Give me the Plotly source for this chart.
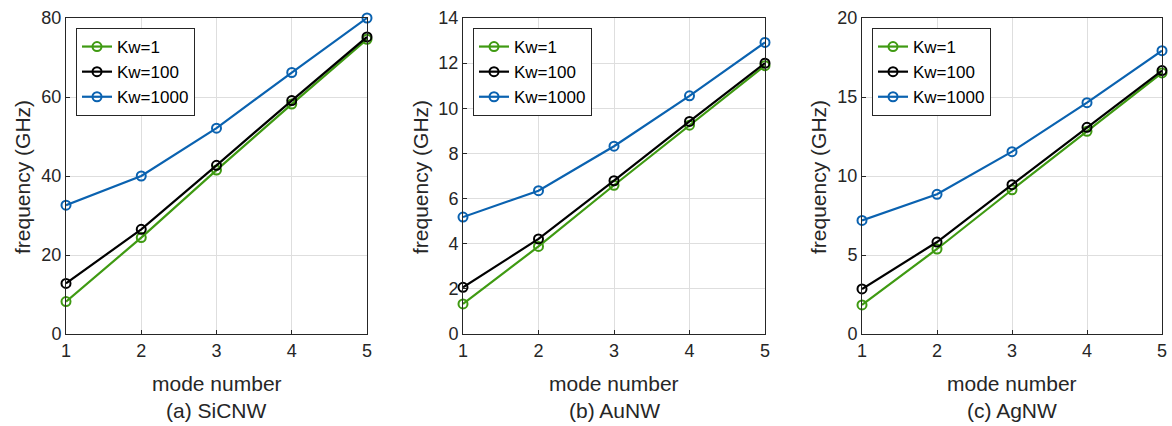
import plotly.graph_objects as go

modes = [1, 2, 3, 4, 5]
series_names = ["Kw=1", "Kw=100", "Kw=1000"]

sic_kw1 = [8.2, 24.4, 41.5, 58.2, 74.6]
sic_kw100 = [12.8, 26.5, 42.7, 59.1, 75.2]
sic_kw1000 = [32.6, 40.0, 52.1, 66.2, 80.0]

au_kw1 = [1.33, 3.88, 6.59, 9.25, 11.89]
au_kw100 = [2.07, 4.21, 6.79, 9.42, 12.0]
au_kw1000 = [5.18, 6.35, 8.32, 10.55, 12.92]

ag_kw1 = [1.84, 5.38, 9.13, 12.83, 16.52]
ag_kw100 = [2.85, 5.82, 9.45, 13.08, 16.67]
ag_kw1000 = [7.19, 8.84, 11.54, 14.64, 17.93]

panels = [
    dict(name="(a) SiCNW", data=[sic_kw1, sic_kw100, sic_kw1000], yrange=[0, 80], dtick=20),
    dict(name="(b) AuNW", data=[au_kw1, au_kw100, au_kw1000], yrange=[0, 14], dtick=2),
    dict(name="(c) AgNW", data=[ag_kw1, ag_kw100, ag_kw1000], yrange=[0, 20], dtick=5),
]

colors = ["#3f9a12", "#000000", "#0a62b0"]
W, H = 1172, 426
xdom_px = [(66, 367), (463, 765), (862, 1162)]
ydom = [1 - 334 / H, 1 - 18 / H]
ytitle_x = [22, 420, 818]
legend_x = [76, 473, 872]

FONT = "Liberation Sans, Arial, sans-serif"

fig = go.Figure()
layout = dict(
    width=W, height=H,
    margin=dict(l=0, r=0, t=0, b=0),
    paper_bgcolor="white", plot_bgcolor="white",
    font=dict(family=FONT, color="#262626"),
    annotations=[],
)

for i, p in enumerate(panels):
    ax = "" if i == 0 else str(i + 1)
    leg = "legend" if i == 0 else f"legend{i + 1}"
    for j, (vals, nm) in enumerate(zip(p["data"], series_names)):
        fig.add_trace(go.Scatter(
            x=modes, y=vals, name=nm, mode="lines+markers",
            xaxis="x" + ax, yaxis="y" + ax, legend=leg,
            line=dict(color=colors[j], width=2.2),
            marker=dict(symbol="circle-open", size=9, color=colors[j], line=dict(width=2)),
            cliponaxis=False,
        ))
    x0, x1 = xdom_px[i]
    layout["xaxis" + ax] = dict(
        domain=[x0 / W, x1 / W], anchor="y" + ax, range=[1, 5], dtick=1,
        showgrid=True, gridcolor="#dedede", gridwidth=1,
        showline=True, linecolor="#262626", linewidth=1, mirror=True,
        ticks="inside", ticklen=4, tickcolor="#262626",
        tickfont=dict(size=18, family=FONT, color="#262626"),
        zeroline=False, automargin=False,
    )
    layout["yaxis" + ax] = dict(
        domain=ydom, anchor="x" + ax, range=p["yrange"], dtick=p["dtick"],
        showgrid=True, gridcolor="#dedede", gridwidth=1,
        showline=True, linecolor="#262626", linewidth=1, mirror=True,
        ticks="inside", ticklen=4, tickcolor="#262626",
        tickfont=dict(size=18, family=FONT, color="#262626"),
        zeroline=False, automargin=False,
    )
    layout[leg] = dict(
        x=legend_x[i] / W, y=1 - 28 / H, xanchor="left", yanchor="top",
        xref="paper", yref="paper",
        bgcolor="white", bordercolor="#262626", borderwidth=1,
        font=dict(size=17, family=FONT, color="#000000"),
        tracegroupgap=0, itemwidth=30,
    )
    cx = (x0 + x1) / 2 / W
    layout["annotations"] += [
        dict(text="mode number", x=cx, y=1 - 383 / H, xref="paper", yref="paper",
             showarrow=False, xanchor="center", yanchor="middle",
             font=dict(size=21, family=FONT, color="#262626")),
        dict(text=p["name"], x=cx, y=1 - 410 / H, xref="paper", yref="paper",
             showarrow=False, xanchor="center", yanchor="middle",
             font=dict(size=21, family=FONT, color="#262626")),
        dict(text="frequency (GHz)", x=ytitle_x[i] / W, y=1 - 177 / H,
             xref="paper", yref="paper", textangle=-90,
             showarrow=False, xanchor="center", yanchor="middle",
             font=dict(size=21, family=FONT, color="#262626")),
    ]

fig.update_layout(**layout)
fig.write_html("out.html", config={"displayModeBar": False},
               post_script="document.body.style.margin='0';document.body.style.overflow='hidden';")
